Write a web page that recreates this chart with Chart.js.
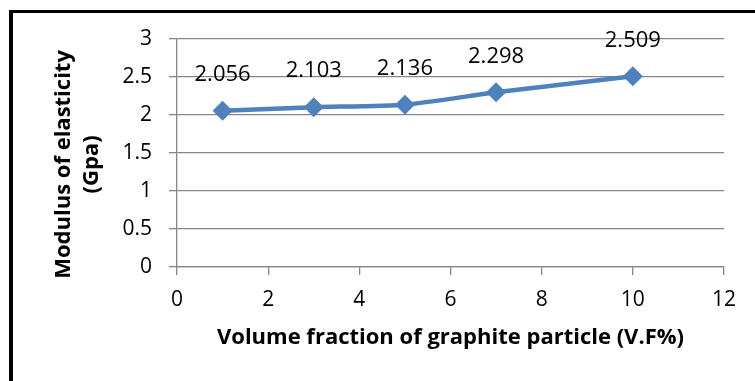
<!DOCTYPE html>
<html>
<head>
<meta charset="utf-8">
<script src="https://cdn.jsdelivr.net/npm/chart.js@4.4.1/dist/chart.umd.min.js"></script>
<style>
  html, body { margin: 0; padding: 0; background: #fff; overflow: hidden; }
  #wrap { position: relative; width: 755px; height: 381px; overflow: hidden; }
  #chart { position: absolute; left: 0; top: 0; }
  #frame { position: absolute; left: 9px; top: 10px; width: 800px; height: 420px;
           border-left: 4px solid #000; border-top: 3px solid #000; pointer-events: none; }
</style>
</head>
<body>
<div id="wrap">
  <canvas id="chart" width="755" height="381"></canvas>
  <div id="frame"></div>
</div>
<script>
// volume fraction (V.F%) vs modulus of elasticity (GPa)
const volumeFraction = [1, 3, 5, 7, 10];
const modulus = [2.056, 2.103, 2.136, 2.298, 2.509];
const xTicks = [0, 2, 4, 6, 8, 10, 12];
const yTicks = [0, 0.5, 1, 1.5, 2, 2.5, 3];

const FONT = '"Open Sans", Lato, sans-serif';
const GRID = '#868686';
const BLUE = '#4F81BD';

// value above each marker
const valueLabels = {
  id: 'valueLabels',
  afterDatasetsDraw(chart) {
    const ctx = chart.ctx;
    const meta = chart.getDatasetMeta(0);
    ctx.save();
    ctx.font = '22px ' + FONT;
    ctx.fillStyle = '#000';
    ctx.textAlign = 'center';
    ctx.textBaseline = 'middle';
    meta.data.forEach((pt, i) => {
      ctx.fillText(modulus[i].toFixed(3), pt.x, pt.y - 36);
    });
    ctx.restore();
  },
};

new Chart(document.getElementById('chart'), {
  type: 'line',
  data: {
    datasets: [
      {
        label: 'Modulus',
        data: volumeFraction.map((x, i) => ({ x, y: modulus[i] })),
        borderColor: BLUE,
        backgroundColor: BLUE,
        borderWidth: 4.5,
        tension: 0.2,
        pointStyle: 'rectRot',
        pointRadius: 10,
        pointBorderWidth: 0,
        pointBackgroundColor: BLUE,
        fill: false,
      },
    ],
  },
  options: {
    responsive: false,
    animation: false,
    events: [],
    layout: { padding: { top: 39, right: 31, bottom: 0, left: 0 } },
    plugins: {
      legend: { display: false },
      tooltip: { enabled: false },
    },
    scales: {
      x: {
        type: 'linear',
        min: 0,
        max: 12,
        afterBuildTicks: (s) => { s.ticks = xTicks.map((v) => ({ value: v })); },
        afterFit: (s) => { s.height = 114; },
        ticks: { color: '#000', font: { family: FONT, size: 21 }, padding: 12, maxRotation: 0,
                 callback: (v) => String(v) },
        grid: { drawOnChartArea: false, color: GRID, lineWidth: 1.3, tickLength: 8 },
        border: { color: GRID, width: 1.3 },
        title: {
          display: true,
          text: 'Volume fraction of graphite particle (V.F%)',
          color: '#000',
          font: { family: FONT, size: 22, weight: 'bold', lineHeight: 1.2 },
          padding: { top: 0, bottom: 30 },
        },
      },
      y: {
        min: 0,
        max: 3,
        afterBuildTicks: (s) => { s.ticks = yTicks.map((v) => ({ value: v })); },
        afterFit: (s) => { s.width = 177; },
        ticks: { color: '#000', font: { family: FONT, size: 21 }, padding: 17,
                 callback: (v) => String(v) },
        grid: { color: GRID, lineWidth: 1.3, tickLength: 8 },
        border: { color: GRID, width: 1.3 },
        title: {
          display: true,
          text: ['Modulus of elasticity    ', '(Gpa)    '],
          color: '#000',
          font: { family: FONT, size: 22, weight: 'bold', lineHeight: 1.3 },
          padding: { top: 49, bottom: 0 },
        },
      },
    },
  },
  plugins: [valueLabels],
});
</script>
</body>
</html>
